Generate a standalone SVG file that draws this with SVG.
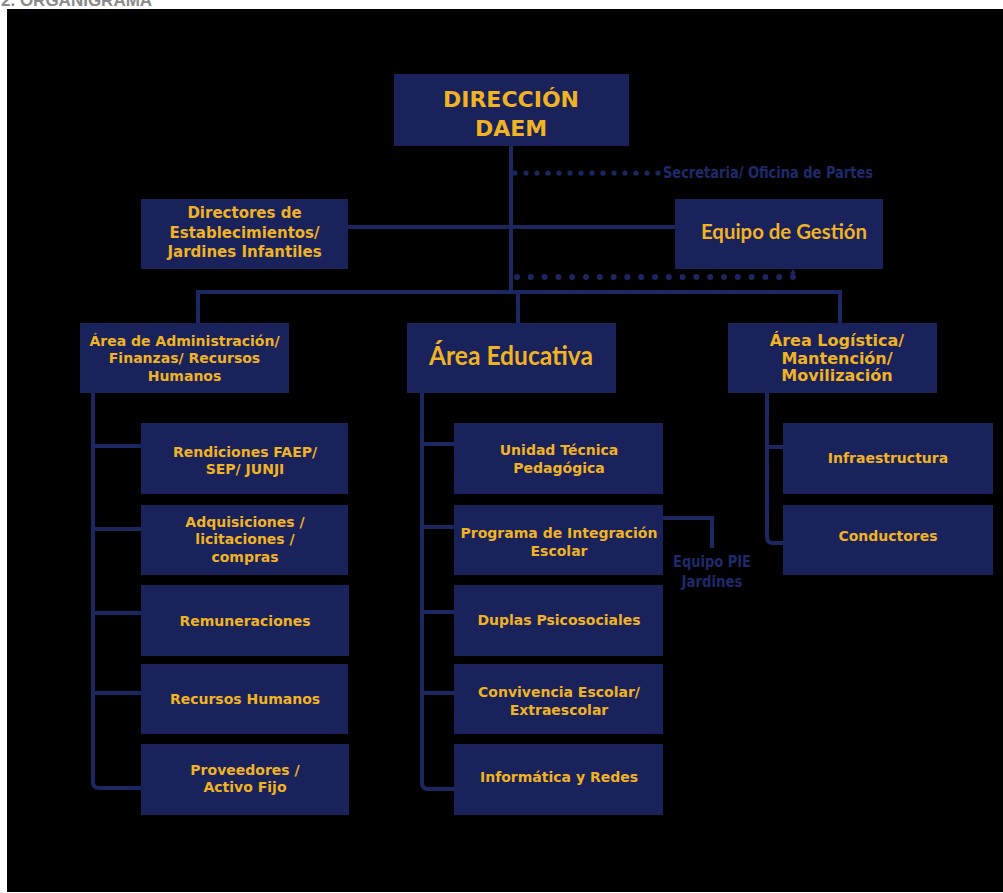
<svg xmlns="http://www.w3.org/2000/svg" width="1003" height="893" viewBox="0 0 1003 893">
<style>
.box{fill:#19225a}
.ln{fill:none;stroke:#1c2660;stroke-width:4}
.dot{fill:#1c2660}
.t{font-family:"DejaVu Sans",Verdana,sans-serif;font-weight:bold;fill:#f0b323;text-anchor:middle}
.c{font-family:Lato,"Open Sans",sans-serif;font-weight:bold;fill:#f0b323;text-anchor:middle}
.n{font-family:"DejaVu Sans Condensed","DejaVu Sans",sans-serif;font-stretch:condensed;font-weight:bold;fill:#1e2a6c}
.s14{font-size:14px}
</style>
<rect width="1003" height="893" fill="#ffffff"/>
<text x="1" y="6" font-family="Liberation Sans,Arial,sans-serif" font-size="17" font-weight="bold" fill="#8a8a8a">2.  ORGANIGRAMA</text>
<rect x="7" y="9" width="996" height="883" fill="#000000"/>

<g id="connectors">
<path class="ln" d="M511 146V292M348 227H675M196 292H842M198 292V323M518 292V323M840 292V323"/>
<path class="ln" d="M93 393V782Q93 788 99 788H141M93 446H141M93 529H141M93 613H141M93 693H141"/>
<path class="ln" d="M422 393V783Q422 789 428 789H454M422 444H454M422 527H454M422 612H454M422 693H454"/>
<path class="ln" d="M767 393V537Q767 543 773 543H783M767 447H783"/>
<path class="ln" d="M663 518H712V548"/>
<g class="dot">
<circle cx="515" cy="173" r="2.6"/><circle cx="526" cy="173" r="2.6"/><circle cx="537" cy="173" r="2.6"/><circle cx="548" cy="173" r="2.6"/><circle cx="559" cy="173" r="2.6"/><circle cx="570" cy="173" r="2.6"/><circle cx="581" cy="173" r="2.6"/><circle cx="592" cy="173" r="2.6"/><circle cx="603" cy="173" r="2.6"/><circle cx="614" cy="173" r="2.6"/><circle cx="625" cy="173" r="2.6"/><circle cx="636" cy="173" r="2.6"/><circle cx="647" cy="173" r="2.6"/><circle cx="658" cy="173" r="2.6"/>
</g>
<g class="dot">
<circle cx="517" cy="277" r="3"/><circle cx="530.8" cy="277" r="3"/><circle cx="544.6" cy="277" r="3"/><circle cx="558.4" cy="277" r="3"/><circle cx="572.2" cy="277" r="3"/><circle cx="586" cy="277" r="3"/><circle cx="599.8" cy="277" r="3"/><circle cx="613.6" cy="277" r="3"/><circle cx="627.4" cy="277" r="3"/><circle cx="641.2" cy="277" r="3"/><circle cx="655" cy="277" r="3"/><circle cx="668.8" cy="277" r="3"/><circle cx="682.6" cy="277" r="3"/><circle cx="696.4" cy="277" r="3"/><circle cx="710.2" cy="277" r="3"/><circle cx="724" cy="277" r="3"/><circle cx="737.8" cy="277" r="3"/><circle cx="751.6" cy="277" r="3"/><circle cx="765.4" cy="277" r="3"/><circle cx="779.2" cy="277" r="3"/><circle cx="793" cy="277" r="3"/>
<path d="M790 274L793 269L796 274Z"/>
</g>
</g>

<g id="direccion"><rect class="box" x="394" y="74" width="235" height="72"/>
<text class="t" font-size="22" x="511" y="107">DIRECCIÓN</text><text class="t" font-size="22" x="511" y="136">DAEM</text></g>

<g id="secretaria"><text class="n" x="663" y="178" font-size="16" textLength="210" lengthAdjust="spacingAndGlyphs">Secretaria/ Oficina de Partes</text></g>

<g id="directores"><rect class="box" x="141" y="199" width="207" height="70"/>
<text class="t" font-size="15" x="244.5" y="218">Directores de</text><text class="t" font-size="15" x="244.5" y="238">Establecimientos/</text><text class="t" font-size="15" x="244.5" y="257">Jardines Infantiles</text></g>

<g id="equipo-gestion"><rect class="box" x="675" y="199" width="208" height="70"/>
<text class="c" font-size="21" x="784" y="239" textLength="166" lengthAdjust="spacingAndGlyphs">Equipo de Gestión</text></g>

<g id="area-admin"><rect class="box" x="80" y="323" width="209" height="70"/>
<text class="t s14" x="184.5" y="346">Área de Administración/</text><text class="t s14" x="184.5" y="363">Finanzas/ Recursos</text><text class="t s14" x="184.5" y="381">Humanos</text></g>

<g id="area-educativa"><rect class="box" x="407" y="323" width="209" height="70"/>
<text class="c" font-size="27" x="511" y="365" textLength="164" lengthAdjust="spacingAndGlyphs">Área Educativa</text></g>

<g id="area-logistica"><rect class="box" x="728" y="323" width="209" height="70"/>
<text class="t" font-size="16" x="837" y="346">Área Logística/</text><text class="t" font-size="16" x="837" y="364">Mantención/</text><text class="t" font-size="16" x="837" y="381">Movilización</text></g>

<g id="rendiciones"><rect class="box" x="141" y="423" width="207" height="71"/>
<text class="t s14" x="245" y="457">Rendiciones FAEP/</text><text class="t s14" x="245" y="474">SEP/ JUNJI</text></g>
<g id="adquisiciones"><rect class="box" x="141" y="505" width="207" height="70"/>
<text class="t s14" x="245" y="527">Adquisiciones /</text><text class="t s14" x="245" y="544">licitaciones /</text><text class="t s14" x="245" y="562">compras</text></g>
<g id="remuneraciones"><rect class="box" x="141" y="585" width="208" height="71"/>
<text class="t s14" x="245" y="626">Remuneraciones</text></g>
<g id="recursos-humanos"><rect class="box" x="141" y="664" width="207" height="70"/>
<text class="t s14" x="245" y="704">Recursos Humanos</text></g>
<g id="proveedores"><rect class="box" x="141" y="744" width="208" height="71"/>
<text class="t s14" x="245" y="775">Proveedores /</text><text class="t s14" x="245" y="792">Activo Fijo</text></g>

<g id="utp"><rect class="box" x="454" y="423" width="209" height="71"/>
<text class="t s14" x="559" y="455">Unidad Técnica</text><text class="t s14" x="559" y="473">Pedagógica</text></g>
<g id="pie"><rect class="box" x="454" y="505" width="209" height="70"/>
<text class="t s14" x="559" y="538">Programa de Integración</text><text class="t s14" x="559" y="556">Escolar</text></g>
<g id="duplas"><rect class="box" x="454" y="585" width="209" height="71"/>
<text class="t s14" x="559" y="625">Duplas Psicosociales</text></g>
<g id="convivencia"><rect class="box" x="454" y="664" width="209" height="70"/>
<text class="t s14" x="559" y="697">Convivencia Escolar/</text><text class="t s14" x="559" y="715">Extraescolar</text></g>
<g id="informatica"><rect class="box" x="454" y="744" width="209" height="71"/>
<text class="t s14" x="559" y="782">Informática y Redes</text></g>

<g id="equipo-pie"><text class="n" x="712" y="567" font-size="16" text-anchor="middle" textLength="78" lengthAdjust="spacingAndGlyphs">Equipo PIE</text><text class="n" x="712" y="587" font-size="16" text-anchor="middle" textLength="61" lengthAdjust="spacingAndGlyphs">Jardines</text></g>

<g id="infraestructura"><rect class="box" x="783" y="423" width="210" height="71"/>
<text class="t s14" x="888" y="463">Infraestructura</text></g>
<g id="conductores"><rect class="box" x="783" y="505" width="210" height="70"/>
<text class="t s14" x="888" y="541">Conductores</text></g>
</svg>
